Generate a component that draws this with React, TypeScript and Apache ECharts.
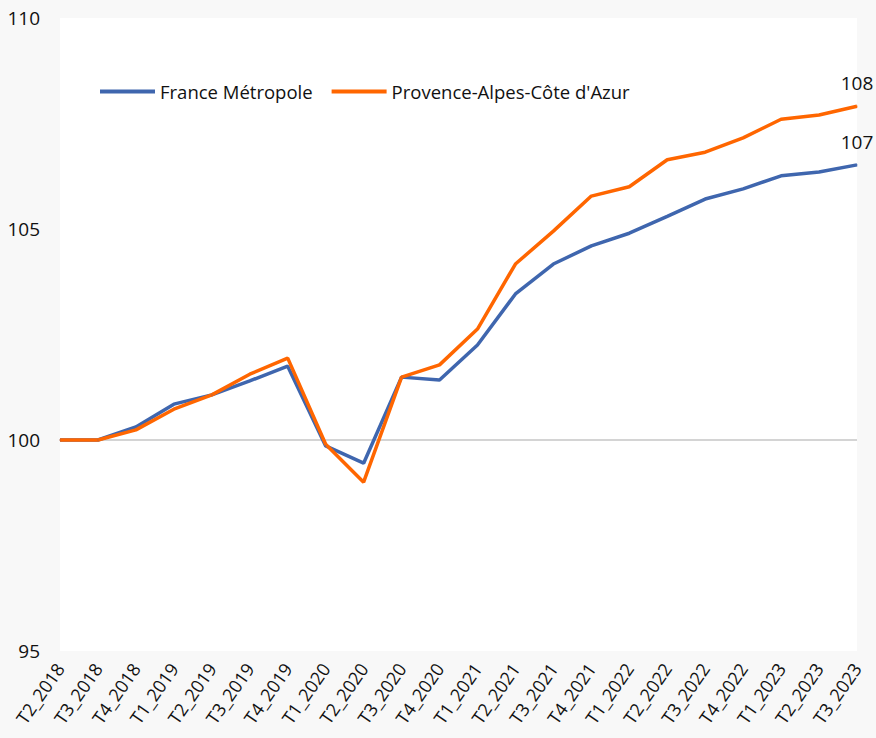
import React, { useEffect, useRef } from "react";
import * as echarts from "echarts";

const categories = [
  "T2_2018", "T3_2018", "T4_2018", "T1_2019", "T2_2019", "T3_2019", "T4_2019",
  "T1_2020", "T2_2020", "T3_2020", "T4_2020", "T1_2021", "T2_2021", "T3_2021",
  "T4_2021", "T1_2022", "T2_2022", "T3_2022", "T4_2022", "T1_2023", "T2_2023", "T3_2023",
];

const franceMetropole = [
  100, 100, 100.31, 100.85, 101.07, 101.4, 101.75, 99.86, 99.45, 101.49, 101.42,
  102.25, 103.46, 104.17, 104.6, 104.9, 105.3, 105.71, 105.95, 106.26, 106.35, 106.52,
];

const paca = [
  100, 100, 100.24, 100.73, 101.07, 101.56, 101.94, 99.9, 99.0, 101.49, 101.78,
  102.63, 104.17, 104.95, 105.78, 106.0, 106.64, 106.82, 107.16, 107.6, 107.7, 107.91,
];

const seriesNames = ["France Métropole", "Provence-Alpes-Côte d'Azur"];
const seriesColors = ["#3f66ae", "#ff6600"];

const FONT = "Open Sans";

function withLastLabel(values: number[]) {
  return values.map((v, i) =>
    i === values.length - 1
      ? {
          value: v,
          label: {
            show: true,
            position: "top",
            distance: 13,
            formatter: (p: any) => String(Math.round(p.value)),
            color: "#111",
            fontSize: 19,
            fontFamily: FONT,
          },
        }
      : v
  );
}

export default function App() {
  const ref = useRef<HTMLDivElement>(null);
  useEffect(() => {
    if (!ref.current) return;
    const chart = echarts.init(ref.current, null, { renderer: "svg" });
    chart.setOption({
      animation: false,
      backgroundColor: "#f8f8f8",
      textStyle: { fontFamily: FONT },
      legend: {
        left: 95,
        top: 77,
        itemWidth: 55,
        itemHeight: 4,
        itemGap: 19,
        icon: "rect",
        textStyle: { fontSize: 18.5, color: "#111", fontFamily: FONT },
        data: seriesNames,
      },
      grid: {
        left: 60,
        right: 19,
        top: 18,
        bottom: 87,
        show: true,
        backgroundColor: "#ffffff",
        borderWidth: 0,
      },
      xAxis: {
        type: "category",
        data: categories,
        boundaryGap: false,
        axisLine: { show: false },
        axisTick: { show: false },
        axisLabel: {
          rotate: 55,
          fontSize: 18,
          color: "#111",
          margin: 14,
          interval: 0,
          fontFamily: FONT,
        },
      },
      yAxis: {
        type: "value",
        min: 95,
        max: 110,
        interval: 5,
        axisLine: { show: false },
        axisTick: { show: false },
        axisLabel: { fontSize: 19, color: "#111", margin: 20, fontFamily: FONT },
        splitLine: {
          show: true,
          lineStyle: {
            color: ["rgba(0,0,0,0)", "#d4d4d4", "rgba(0,0,0,0)", "rgba(0,0,0,0)"],
            width: 2,
          },
        },
      },
      series: [
        {
          name: seriesNames[0],
          type: "line",
          data: withLastLabel(franceMetropole),
          symbol: "circle",
          symbolSize: 1,
          showAllSymbol: true,
          lineStyle: { width: 3.5, color: seriesColors[0] },
          itemStyle: { color: seriesColors[0] },
        },
        {
          name: seriesNames[1],
          type: "line",
          data: withLastLabel(paca),
          symbol: "circle",
          symbolSize: 1,
          showAllSymbol: true,
          lineStyle: { width: 3.5, color: seriesColors[1] },
          itemStyle: { color: seriesColors[1] },
        },
      ],
    });
    return () => chart.dispose();
  }, []);
  return (
    <div
      ref={ref}
      style={{ position: "fixed", left: 0, top: 0, width: 876, height: 738 }}
    />
  );
}
